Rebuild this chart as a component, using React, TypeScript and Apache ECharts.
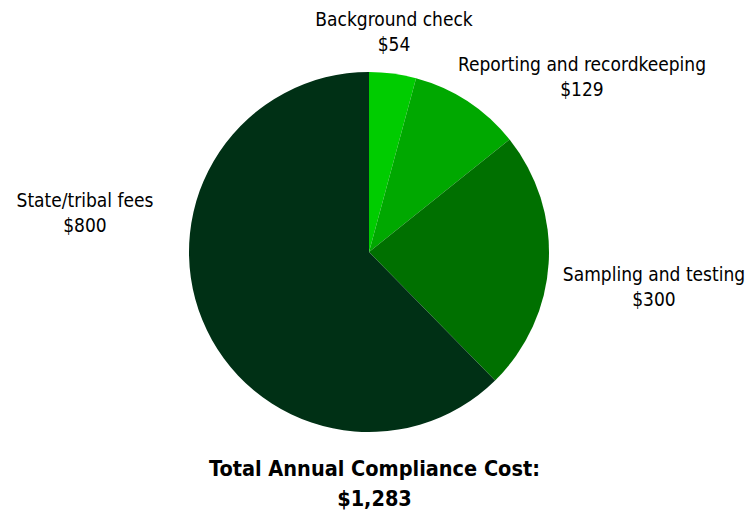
import React, { useEffect, useRef } from "react";
import * as echarts from "echarts";

const categories = [
  "Background check",
  "Reporting and recordkeeping",
  "Sampling and testing",
  "State/tribal fees",
];
const values = [54, 129, 300, 800];
const colors = ["#00cc00", "#00a800", "#007000", "#003015"];
const totalLabel = "Total Annual Compliance Cost:";

// label anchor positions (layout only)
const labelPos = [
  { x: 394, y: 31 },
  { x: 582, y: 76 },
  { x: 654, y: 286 },
  { x: 85, y: 212 },
];

const FONT = "DejaVu Sans Condensed, Liberation Sans Narrow, sans-serif";

export default function App() {
  const ref = useRef<HTMLDivElement>(null);
  useEffect(() => {
    document.body.style.margin = "0";
    const chart = echarts.init(ref.current!, null, { renderer: "svg" });
    const total = values.reduce((a, b) => a + b, 0);
    chart.setOption({
      animation: false,
      backgroundColor: "#ffffff",
      title: {
        text: `${totalLabel}\n$${total.toLocaleString("en-US")}`,
        left: "center",
        top: 448,
        textStyle: {
          fontFamily: FONT,
          fontWeight: "bold",
          fontSize: 21.5,
          lineHeight: 30,
          color: "#000",
          align: "center",
        },
      },
      series: [
        {
          type: "pie",
          center: [369, 252],
          radius: 180,
          startAngle: 90,
          clockwise: true,
          data: categories.map((c, i) => ({
            name: c,
            value: values[i],
            itemStyle: { color: colors[i] },
          })),
          label: {
            show: true,
            position: "outside",
            formatter: (p: any) => `${p.name}\n$${p.value}`,
            fontFamily: FONT,
            fontSize: 19,
            lineHeight: 25,
            color: "#000",
            align: "center",
            overflow: "none",
            width: 400,
          },
          labelLine: { show: false },
          labelLayout: (p: any) => ({
            x: labelPos[p.dataIndex].x,
            y: labelPos[p.dataIndex].y,
            align: "center",
            verticalAlign: "middle",
          }),
          emphasis: { disabled: true },
        },
      ],
    });
    return () => chart.dispose();
  }, []);
  return <div ref={ref} style={{ width: 749, height: 514 }} />;
}
